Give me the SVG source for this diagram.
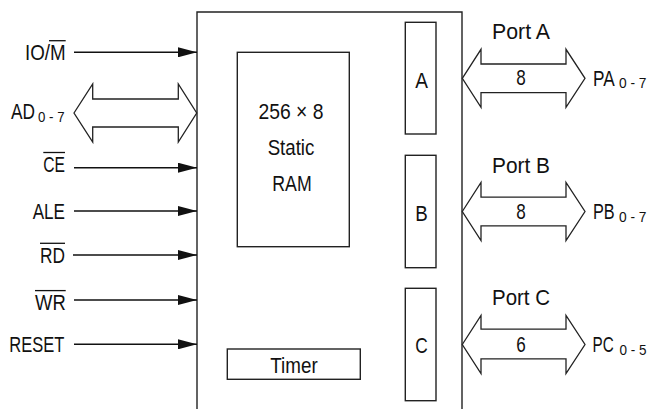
<svg xmlns="http://www.w3.org/2000/svg" width="648" height="409" viewBox="0 0 648 409">
<defs>
<style>
text{font-family:"Liberation Sans",Arial,sans-serif;font-size:21.5px;fill:#111}
.sub{font-size:14.5px}
.l{text-anchor:end}
.m{text-anchor:middle}
.box{fill:none;stroke:#222;stroke-width:1.4}
.sig{stroke:#111;stroke-width:1.4;fill:none}
.bus{fill:#fff;stroke:#222;stroke-width:1.3;stroke-linejoin:miter}
.ov{stroke:#111;stroke-width:1.3}
</style>
<marker id="ah" markerUnits="userSpaceOnUse" markerWidth="20" markerHeight="10" refX="19" refY="5" orient="auto">
<path d="M0,0 L19,5 L0,10 z" fill="#111"/>
</marker>
</defs>

<g id="chip">
<path class="box" d="M197,409 V12 H462 V409"/>
</g>

<g id="ram">
<rect class="box" x="237.3" y="52.3" width="112" height="194.4"/>
<text class="m" x="291" y="118.5" textLength="65" lengthAdjust="spacingAndGlyphs">256 × 8</text>
<text class="m" x="291" y="155" textLength="46.7" lengthAdjust="spacingAndGlyphs">Static</text>
<text class="m" x="292" y="190.5" textLength="39.4" lengthAdjust="spacingAndGlyphs">RAM</text>
</g>

<g id="timer">
<rect class="box" x="227.3" y="349" width="133" height="30.3"/>
<text class="m" x="294" y="372.7" textLength="47.3" lengthAdjust="spacingAndGlyphs">Timer</text>
</g>

<g id="portA">
<rect class="box" x="405.3" y="22.3" width="30.7" height="111.7"/>
<text class="m" x="421.5" y="88.3" textLength="12.7" lengthAdjust="spacingAndGlyphs">A</text>
</g>
<g id="portB">
<rect class="box" x="405.3" y="155.3" width="30.7" height="112.4"/>
<text class="m" x="421.5" y="220.7" textLength="12.5" lengthAdjust="spacingAndGlyphs">B</text>
</g>
<g id="portC">
<rect class="box" x="405.3" y="288.3" width="30.7" height="112.4"/>
<text class="m" x="421.5" y="353.3" textLength="12.5" lengthAdjust="spacingAndGlyphs">C</text>
</g>

<g id="connectors">
<line class="sig" x1="74" y1="52.3" x2="197" y2="52.3" marker-end="url(#ah)"/>
<line class="sig" x1="74" y1="167.7" x2="197" y2="167.7" marker-end="url(#ah)"/>
<line class="sig" x1="74" y1="211" x2="197" y2="211" marker-end="url(#ah)"/>
<line class="sig" x1="73" y1="255" x2="197" y2="255" marker-end="url(#ah)"/>
<line class="sig" x1="74" y1="300" x2="197" y2="300" marker-end="url(#ah)"/>
<line class="sig" x1="74" y1="344.3" x2="197" y2="344.3" marker-end="url(#ah)"/>
<path class="bus" d="M74,113 L92.7,84 V99 H178.3 V84 L196.7,113 L178.3,142 V127 H92.7 V142 Z"/>
<path class="bus" d="M462.3,78.3 L481,49.3 V64 H566 V49.3 L585,78.3 L566,107.3 V92.7 H481 V107.3 Z"/>
<path class="bus" d="M462.3,211.5 L481,182.5 V197.2 H566 V182.5 L585,211.5 L566,240.5 V225.8 H481 V240.5 Z"/>
<path class="bus" d="M462.3,344.5 L481,315.5 V329.2 H566 V315.5 L585,344.5 L566,373.5 V358.8 H481 V373.5 Z"/>
</g>

<g id="labels">
<text class="l" x="65.7" y="59.5" textLength="40.7" lengthAdjust="spacingAndGlyphs">IO/M</text>
<line class="ov" x1="49" y1="40.7" x2="65.7" y2="40.7"/>
<text class="l" x="35" y="119" textLength="24" lengthAdjust="spacingAndGlyphs">AD</text>
<text class="sub" x="38" y="121.7" textLength="26.5" lengthAdjust="spacingAndGlyphs">0 - 7</text>
<text class="l" x="65" y="171.7" textLength="21.7" lengthAdjust="spacingAndGlyphs">CE</text>
<line class="ov" x1="43.3" y1="152.5" x2="65" y2="152.5"/>
<text class="l" x="65" y="218.5" textLength="32.3" lengthAdjust="spacingAndGlyphs">ALE</text>
<text class="l" x="65" y="263" textLength="25" lengthAdjust="spacingAndGlyphs">RD</text>
<line class="ov" x1="40" y1="243.3" x2="65" y2="243.3"/>
<text class="l" x="65.7" y="309.5" textLength="30.7" lengthAdjust="spacingAndGlyphs">WR</text>
<line class="ov" x1="35" y1="290.6" x2="65.7" y2="290.6"/>
<text class="l" x="64.3" y="351.7" textLength="55" lengthAdjust="spacingAndGlyphs">RESET</text>

<text x="492" y="38.5" textLength="58" lengthAdjust="spacingAndGlyphs">Port  A</text>
<text x="492" y="173.3" textLength="58" lengthAdjust="spacingAndGlyphs">Port  B</text>
<text x="492" y="305" textLength="58" lengthAdjust="spacingAndGlyphs">Port  C</text>

<text class="m" x="521" y="85" textLength="9.5" lengthAdjust="spacingAndGlyphs">8</text>
<text class="m" x="521" y="219" textLength="9.5" lengthAdjust="spacingAndGlyphs">8</text>
<text class="m" x="521" y="352" textLength="9.5" lengthAdjust="spacingAndGlyphs">6</text>

<text x="593" y="85.5" textLength="21.7" lengthAdjust="spacingAndGlyphs">PA</text>
<text class="sub" x="619" y="88" textLength="27.5" lengthAdjust="spacingAndGlyphs">0 - 7</text>
<text x="593" y="219" textLength="21.7" lengthAdjust="spacingAndGlyphs">PB</text>
<text class="sub" x="619" y="221.5" textLength="27.5" lengthAdjust="spacingAndGlyphs">0 - 7</text>
<text x="592.5" y="352" textLength="21.2" lengthAdjust="spacingAndGlyphs">PC</text>
<text class="sub" x="619.5" y="354.5" textLength="27" lengthAdjust="spacingAndGlyphs">0 - 5</text>
</g>
</svg>
